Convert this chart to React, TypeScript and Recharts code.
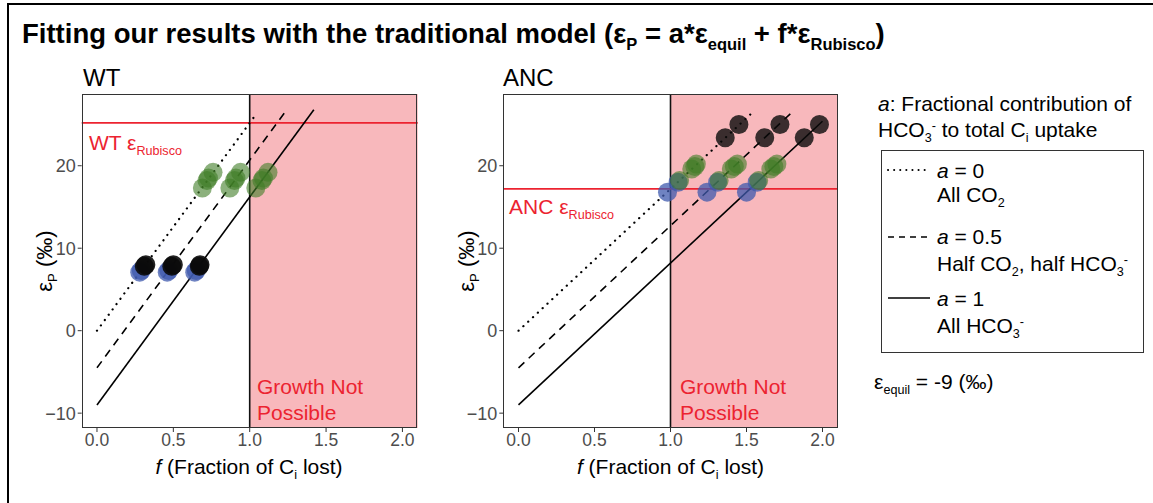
import React from 'react';
import { ComposedChart, XAxis, YAxis, Scatter, Line, ReferenceArea, ReferenceLine } from 'recharts';

// epsilon_P vs f, model lines and measured points
const fTicks = [0, 0.5, 1, 1.5, 2];
const epsTicks = [-10, 0, 10, 20];
const fDomain = [-0.1, 2.1];
const epsDomain = [-11.8, 28.7];

const wtRubisco = 25.2;
const ancRubisco = 17.2;

// model lines (a = 0, 0.5, 1)
const wtDotted = [{ f: 0, y: 0 }, { f: 1.04, y: 26.2 }];
const wtDashed = [{ f: 0, y: -4.5 }, { f: 1.235, y: 26.6 }];
const wtSolid = [{ f: 0, y: -9 }, { f: 1.42, y: 26.8 }];

const ancDotted = [{ f: 0, y: 0 }, { f: 1.53, y: 26.3 }];
const ancDashed = [{ f: 0, y: -4.5 }, { f: 1.8, y: 26.5 }];
const ancSolid = [{ f: 0, y: -9 }, { f: 2.0, y: 25.4 }];

// measured points placed on each line
const wtBlue = [
  { f: 0.28, y: 7.1 }, { f: 0.29, y: 7.3 },
  { f: 0.46, y: 7.1 }, { f: 0.47, y: 7.3 },
  { f: 0.64, y: 7.1 }, { f: 0.65, y: 7.3 },
];
const wtGreen = [
  { f: 0.69, y: 17.3 }, { f: 0.72, y: 18.2 }, { f: 0.73, y: 18.5 }, { f: 0.76, y: 19.2 },
  { f: 0.87, y: 17.3 }, { f: 0.9, y: 18.2 }, { f: 0.91, y: 18.5 }, { f: 0.94, y: 19.2 },
  { f: 1.04, y: 17.3 }, { f: 1.08, y: 18.2 }, { f: 1.09, y: 18.5 }, { f: 1.12, y: 19.2 },
];
const wtBlack = [
  { f: 0.31, y: 7.8 }, { f: 0.32, y: 8.0 },
  { f: 0.49, y: 7.8 }, { f: 0.5, y: 8.0 },
  { f: 0.67, y: 7.8 }, { f: 0.675, y: 8.0 },
];

const ancBlue = [
  { f: 0.98, y: 16.8 }, { f: 1.05, y: 18.0 },
  { f: 1.24, y: 16.8 }, { f: 1.31, y: 18.0 },
  { f: 1.5, y: 16.8 }, { f: 1.57, y: 18.0 },
];
const ancGreen = [
  { f: 1.06, y: 18.2 }, { f: 1.14, y: 19.6 }, { f: 1.16, y: 19.9 }, { f: 1.17, y: 20.2 },
  { f: 1.32, y: 18.2 }, { f: 1.4, y: 19.6 }, { f: 1.42, y: 19.9 }, { f: 1.44, y: 20.2 },
  { f: 1.58, y: 18.2 }, { f: 1.66, y: 19.6 }, { f: 1.68, y: 19.9 }, { f: 1.7, y: 20.2 },
];
const ancBlack = [
  { f: 1.36, y: 23.4 }, { f: 1.45, y: 25.0 },
  { f: 1.62, y: 23.4 }, { f: 1.72, y: 25.0 },
  { f: 1.88, y: 23.4 }, { f: 1.98, y: 25.0 },
];

const RED = '#ec2330';
const PINK = '#f8b8bc';
const FONT = '"Liberation Sans", Arial, Helvetica, sans-serif';

const dot = (fill: string, opacity: number) => (p: any) => (
  <circle cx={p.cx} cy={p.cy} r={9.5} fill={fill} fillOpacity={opacity} />
);

const Sub = ({ children }: { children: React.ReactNode }) => (
  <span style={{ fontSize: '0.6em', verticalAlign: '-0.4em' }}>{children}</span>
);
const Sup = ({ children }: { children: React.ReactNode }) => (
  <span style={{ fontSize: '0.6em', verticalAlign: '0.55em' }}>{children}</span>
);

const Txt = ({ x, y, size, children, style }: any) => (
  <div
    style={{
      position: 'absolute', left: x, top: y - size * 0.49, fontSize: size, lineHeight: `${size}px`,
      whiteSpace: 'nowrap', ...style,
    }}
  >
    {children}
  </div>
);

interface PanelProps {
  left: number;
  marginLeft: number;
  rubisco: number;
  dotted: any[];
  dashed: any[];
  solid: any[];
  blue: any[];
  green: any[];
  black: any[];
  blackOpacity: number;
}

const Panel = (p: PanelProps) => (
  <div style={{ position: 'absolute', left: p.left, top: 0 }}>
    <ComposedChart
      width={440}
      height={503}
      margin={{ top: 94, right: 22.3, bottom: 45, left: p.marginLeft }}
    >
      <XAxis
        dataKey="f"
        type="number"
        domain={fDomain}
        ticks={fTicks}
        tickFormatter={(v: number) => v.toFixed(1)}
        axisLine={false}
        tickLine={{ stroke: '#333' }}
        tickSize={4}
        tick={{ fill: '#4d4d4d', fontSize: 17.5, fontFamily: FONT }}
        height={30}
        allowDataOverflow
      />
      <YAxis
        dataKey="y"
        type="number"
        domain={epsDomain}
        ticks={epsTicks}
        tickFormatter={(v: number) => (v < 0 ? `\u2212${Math.abs(v)}` : `${v}`)}
        axisLine={false}
        tickLine={{ stroke: '#333' }}
        tickSize={4}
        tick={{ fill: '#4d4d4d', fontSize: 18, fontFamily: FONT }}
        width={41.7}
        allowDataOverflow
      />
      <ReferenceArea x1={1} x2={2.1} fill={PINK} fillOpacity={1} stroke="none" ifOverflow="visible" />
      <ReferenceLine x={1} stroke="#111" strokeWidth={1.6} />
      <ReferenceLine y={p.rubisco} stroke={RED} strokeWidth={1.6} />
      <Scatter data={p.blue} fill="#3f5aae" shape={dot('#3f5aae', 0.75)} isAnimationActive={false} />
      <Scatter data={p.green} fill="#3f7d27" shape={dot('#3f7d27', 0.6)} isAnimationActive={false} />
      <Scatter data={p.black} fill="#000" shape={dot('#0a0a0a', p.blackOpacity)} isAnimationActive={false} />
      <Line data={p.dotted} dataKey="y" type="linear" dot={false} stroke="#000" strokeWidth={2.2}
        strokeDasharray="0.1 6.5" strokeLinecap="round" isAnimationActive={false} />
      <Line data={p.dashed} dataKey="y" type="linear" dot={false} stroke="#000" strokeWidth={1.6}
        strokeDasharray="8 6" isAnimationActive={false} />
      <Line data={p.solid} dataKey="y" type="linear" dot={false} stroke="#000" strokeWidth={1.6}
        isAnimationActive={false} />
    </ComposedChart>
  </div>
);

const PlotFrame = ({ x, w }: { x: number; w: number }) => (
  <div style={{ position: 'absolute', left: x, top: 94, width: w, height: 334, border: '1px solid #333', boxSizing: 'border-box' }} />
);

const YLabel = ({ x }: { x: number }) => (
  <div
    style={{
      position: 'absolute', left: x - 60, top: 261 - 12, width: 120, height: 24, textAlign: 'center',
      transform: 'rotate(-90deg)', fontSize: 22, lineHeight: '24px', whiteSpace: 'nowrap',
    }}
  >
    ε<Sub>P</Sub> (‰)
  </div>
);

const XLabel = ({ cx }: { cx: number }) => (
  <div style={{ position: 'absolute', left: cx - 150, width: 300, top: 467 - 12, textAlign: 'center', fontSize: 21, lineHeight: '24px' }}>
    <i>f</i> (Fraction of C<Sub>i</Sub> lost)
  </div>
);

const LegendKey = ({ y, dash, w = 1.6 }: { y: number; dash?: string; w?: number }) => (
  <svg style={{ position: 'absolute', left: 886, top: y - 3 }} width={46} height={6}>
    <line x1={2} y1={3} x2={44} y2={3} stroke="#000" strokeWidth={w} strokeDasharray={dash} strokeLinecap={dash === '0.1 6' ? 'round' : 'butt'} />
  </svg>
);

export default function App() {
  return (
    <div
      style={{
        position: 'absolute', left: 0, top: 0, width: 1153, height: 503, background: '#fff',
        fontFamily: FONT, color: '#000', overflow: 'hidden',
      }}
    >
      <div style={{ position: 'absolute', left: 7, top: 3, width: 1146, height: 500, borderLeft: '2px solid #000', borderTop: '2px solid #000' }} />
      <Txt x={22} y={33} size={27.5} style={{ fontWeight: 'bold' }}>
        Fitting our results with the traditional model (ε<Sub>P</Sub> = a*ε<Sub>equil</Sub> + f*ε<Sub>Rubisco</Sub>)
      </Txt>
      <Txt x={83} y={78} size={24}>WT</Txt>
      <Txt x={503} y={78} size={24}>ANC</Txt>

      <Panel left={0} marginLeft={40} rubisco={wtRubisco} dotted={wtDotted} dashed={wtDashed} solid={wtSolid}
        blue={wtBlue} green={wtGreen} black={wtBlack} blackOpacity={0.9} />
      <Panel left={420} marginLeft={41.6} rubisco={ancRubisco} dotted={ancDotted} dashed={ancDashed} solid={ancSolid}
        blue={ancBlue} green={ancGreen} black={ancBlack} blackOpacity={0.8} />
      <PlotFrame x={81.7} w={335} />
      <PlotFrame x={503.3} w={334.4} />

      <Txt x={89} y={142} size={21} style={{ color: RED }}>WT ε<Sub>Rubisco</Sub></Txt>
      <Txt x={509} y={206} size={21} style={{ color: RED }}>ANC ε<Sub>Rubisco</Sub></Txt>
      <Txt x={257} y={386} size={21} style={{ color: RED }}>Growth Not</Txt>
      <Txt x={257} y={412} size={21} style={{ color: RED }}>Possible</Txt>
      <Txt x={680} y={386} size={21} style={{ color: RED }}>Growth Not</Txt>
      <Txt x={680} y={412} size={21} style={{ color: RED }}>Possible</Txt>

      <YLabel x={45} />
      <YLabel x={467} />
      <XLabel cx={249} />
      <XLabel cx={670.5} />

      <Txt x={878} y={103} size={21}><i>a</i>: Fractional contribution of</Txt>
      <Txt x={878} y={126} size={21}>HCO<Sub>3</Sub><Sup>-</Sup> to total C<Sub>i</Sub> uptake</Txt>
      <div style={{ position: 'absolute', left: 880.7, top: 150, width: 263.3, height: 203.3, border: '1px solid #333', boxSizing: 'border-box' }} />
      <LegendKey y={170} dash="0.1 6" w={2} />
      <LegendKey y={237} dash="6 5" />
      <LegendKey y={298} />
      <Txt x={937} y={170} size={21}><i>a</i> = 0</Txt>
      <Txt x={937} y={194} size={21}>All CO<Sub>2</Sub></Txt>
      <Txt x={937} y={236} size={21}><i>a</i> = 0.5</Txt>
      <Txt x={937} y={260} size={21}>Half CO<Sub>2</Sub>, half HCO<Sub>3</Sub><Sup>-</Sup></Txt>
      <Txt x={937} y={298} size={21}><i>a</i> = 1</Txt>
      <Txt x={937} y={322} size={21}>All HCO<Sub>3</Sub><Sup>-</Sup></Txt>
      <Txt x={874} y={381} size={21}>ε<Sub>equil</Sub> = -9 (‰)</Txt>
    </div>
  );
}
